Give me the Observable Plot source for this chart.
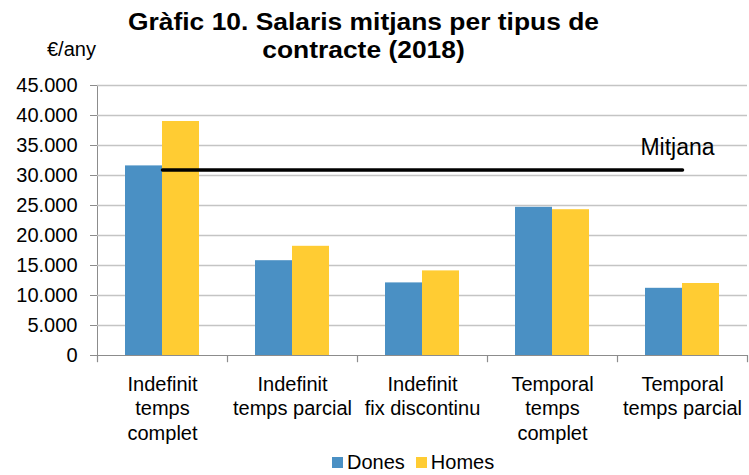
<!DOCTYPE html>
<html>
<head>
<meta charset="utf-8">
<script src="https://cdn.jsdelivr.net/npm/d3@7"></script>
<script src="https://cdn.jsdelivr.net/npm/@observablehq/plot@0.6"></script>
<style>
  html, body { margin: 0; padding: 0; background: #fff; }
  #wrap { position: relative; width: 749px; height: 475px; font-family: "Liberation Sans", Arial, sans-serif; color: #000; }
  #wrap svg { position: absolute; left: 0; top: 0; }
  .title { position: absolute; left: 0; width: 727px; text-align: center; font-weight: bold; font-size: 24px; line-height: 24px; height: 24px; white-space: nowrap; transform: scaleX(1.1); transform-origin: 363.5px 50%; }
  .unit { position: absolute; left: 47px; top: 39px; font-size: 20px; line-height: 20px; }
  .legend { position: absolute; top: 452px; left: 332px; font-size: 20px; line-height: 20px; display: flex; align-items: center; white-space: nowrap; }
  .sw { display: inline-block; width: 11px; height: 11px; margin-right: 4px; }
</style>
</head>
<body>
<div id="wrap">
  <div class="title" style="top:10px">Gràfic 10. Salaris mitjans per tipus de</div>
  <div class="title" style="top:38px">contracte (2018)</div>
  <div class="unit">€/any</div>
  <div class="legend" id="legend"></div>
</div>
<script>
const categories = [
  "Indefinit\ntemps\ncomplet",
  "Indefinit\ntemps parcial",
  "Indefinit\nfix discontinu",
  "Temporal\ntemps\ncomplet",
  "Temporal\ntemps parcial"
];
const series = ["Dones", "Homes"];
const dones = [31600, 15800, 12100, 24700, 11200];
const homes = [39000, 18200, 14100, 24300, 12000];
const mitjana = 30900;
const yTicks = [0, 5000, 10000, 15000, 20000, 25000, 30000, 35000, 40000, 45000];
const colors = ["#4a90c4", "#ffcc33"];

const table = [];
categories.forEach((c, i) => {
  table.push({cat: c, serie: "Dones", value: dones[i]});
  table.push({cat: c, serie: "Homes", value: homes[i]});
});
const meanLine = [{cat: categories[0], v: mitjana}, {cat: categories[categories.length - 1], v: mitjana}];
const fmt = d => d3.format(",")(d).replace(/,/g, ".");

const W = 749, H = 475, mL = 97, mR = 2;
const band = (W - mL - mR) / categories.length;
const barW = 37;
const outer = (band - 2 * barW) / 2;

const chart = Plot.plot({
  width: W,
  height: H,
  marginLeft: mL,
  marginRight: mR,
  marginTop: 85,
  marginBottom: 120,
  style: {fontFamily: "'Liberation Sans', Arial, sans-serif", fontSize: "20px", color: "#8c8c8c", background: "transparent", overflow: "visible"},
  x: {domain: categories, padding: 0, axis: null},
  y: {domain: [0, 45000], ticks: yTicks, tickSize: 7, tickFormat: () => "", label: null, line: true},
  marks: [
    Plot.ruleY(yTicks.filter(d => d > 0), {stroke: "#c4c4c4", strokeWidth: 1.5}),
    Plot.barY(table.filter(d => d.serie === "Dones"), {x: "cat", y: "value", fill: colors[0], insetLeft: outer, insetRight: band - outer - barW}),
    Plot.barY(table.filter(d => d.serie === "Homes"), {x: "cat", y: "value", fill: colors[1], insetLeft: band - outer - barW, insetRight: outer}),
    Plot.ruleY([0], {stroke: "#8c8c8c", strokeWidth: 1.2}),
    Plot.ruleX(categories, {x: d => d, y1: 0, y2: -1200, dx: -band / 2, stroke: "#8c8c8c", strokeWidth: 1.2}),
    Plot.ruleX([categories[categories.length - 1]], {x: d => d, y1: 0, y2: -1200, dx: band / 2, stroke: "#8c8c8c", strokeWidth: 1.2}),
    Plot.lineY(meanLine, {x: "cat", y: "v", stroke: "#000", strokeWidth: 3.5, strokeLinecap: "round"}),
    Plot.text(["Mitjana"], {x: () => categories[categories.length - 1], y: () => mitjana, text: d => d, dx: -5, dy: -22, fontSize: 23, fill: "#000"}),
    Plot.text(yTicks, {frameAnchor: "left", y: d => d, text: d => fmt(d), dx: -20, textAnchor: "end", fill: "#000", fontSize: 20}),
    Plot.text(categories, {x: d => d, y: () => 0, text: d => d, dy: 18, lineAnchor: "top", lineHeight: 1.22, fill: "#000", fontSize: 20})
  ]
});
document.getElementById("wrap").appendChild(chart);

const legend = document.getElementById("legend");
series.forEach((s, i) => {
  const sw = document.createElement("span");
  sw.className = "sw";
  sw.style.background = colors[i];
  const t = document.createElement("span");
  t.textContent = s;
  t.style.marginRight = i === 0 ? "11px" : "0";
  legend.appendChild(sw);
  legend.appendChild(t);
});
</script>
</body>
</html>
